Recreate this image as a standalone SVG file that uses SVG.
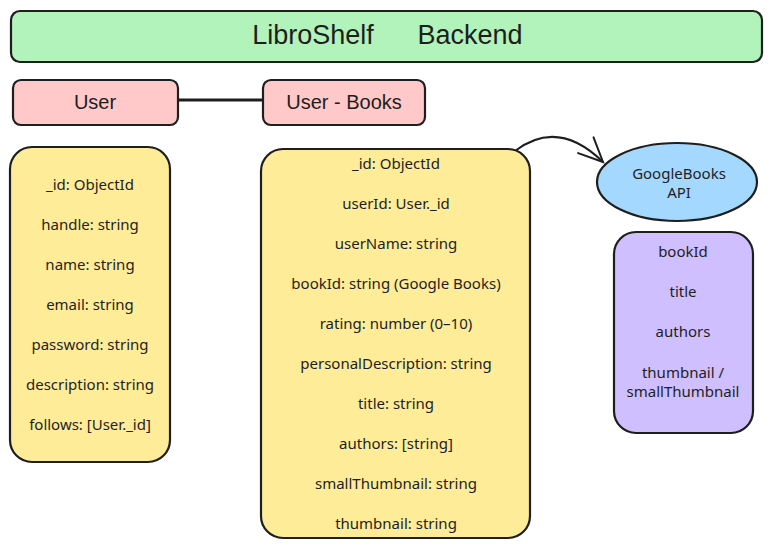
<svg xmlns="http://www.w3.org/2000/svg" width="771" height="549" viewBox="0 0 771 549">
<style>
.box{stroke:#1e1e1e;stroke-width:2.2}
.hand{font-family:"Liberation Sans",sans-serif;font-size:27px;fill:#1e1e1e;text-anchor:middle;dominant-baseline:central}
.hand2{font-family:"Liberation Sans",sans-serif;font-size:20px;fill:#1e1e1e;text-anchor:middle;dominant-baseline:central}
.t{font-family:"Noto Sans","Open Sans",sans-serif;font-size:15px;fill:#1e1e1e;text-anchor:middle;dominant-baseline:central}
</style>
<defs>
<marker id="arr" viewBox="0 0 30 30" refX="26" refY="15" markerWidth="30" markerHeight="30" markerUnits="userSpaceOnUse" orient="auto">
<path d="M2,4 L26,15 L2,26" fill="none" stroke="#1e1e1e" stroke-width="2" stroke-linecap="round"/>
</marker>
</defs>
<rect width="771" height="549" fill="#ffffff"/>
<g id="title">
<rect class="box" x="11" y="11" width="751" height="51" rx="9" fill="#b2f2bb"/>
<text class="hand" x="313" y="35">LibroShelf</text>
<text class="hand" x="470" y="35">Backend</text>
</g>
<g id="connectors">
<line x1="178" y1="100" x2="262" y2="100" stroke="#1e1e1e" stroke-width="3"/>
<path d="M515,151 Q558,118 603,162" fill="none" stroke="#1e1e1e" stroke-width="2" marker-end="url(#arr)"/>
</g>
<g id="user">
<rect class="box" x="13" y="80" width="165" height="45" rx="8" fill="#ffc9c9"/>
<text class="hand2" x="95" y="102">User</text>
</g>
<g id="user-books">
<rect class="box" x="263" y="80" width="162" height="45" rx="8" fill="#ffc9c9"/>
<text class="hand2" x="344" y="102">User - Books</text>
</g>
<g id="user-fields">
<rect class="box" x="10" y="147" width="160" height="315" rx="22" fill="#ffec99"/>
<text class="t" x="90" y="184">_id: ObjectId</text>
<text class="t" x="90" y="224">handle: string</text>
<text class="t" x="90" y="264">name: string</text>
<text class="t" x="90" y="304">email: string</text>
<text class="t" x="90" y="344">password: string</text>
<text class="t" x="90" y="384">description: string</text>
<text class="t" x="90" y="424">follows: [User._id]</text>
</g>
<g id="userbooks-fields">
<rect class="box" x="261" y="149" width="269" height="389" rx="22" fill="#ffec99"/>
<text class="t" x="396" y="163">_id: ObjectId</text>
<text class="t" x="396" y="203">userId: User._id</text>
<text class="t" x="396" y="243">userName: string</text>
<text class="t" x="396" y="283">bookId: string (Google Books)</text>
<text class="t" x="396" y="323">rating: number (0–10)</text>
<text class="t" x="396" y="363">personalDescription: string</text>
<text class="t" x="396" y="403">title: string</text>
<text class="t" x="396" y="443">authors: [string]</text>
<text class="t" x="396" y="483">smallThumbnail: string</text>
<text class="t" x="396" y="523">thumbnail: string</text>
</g>
<g id="googlebooks-api">
<ellipse class="box" cx="677" cy="182" rx="80" ry="39" fill="#a5d8ff"/>
<text class="t" x="679" y="173">GoogleBooks</text>
<text class="t" x="679" y="192">API</text>
</g>
<g id="api-fields">
<rect class="box" x="614" y="232" width="139" height="201" rx="22" fill="#d0bfff"/>
<text class="t" x="683" y="251">bookId</text>
<text class="t" x="683" y="291">title</text>
<text class="t" x="683" y="331">authors</text>
<text class="t" x="683" y="372">thumbnail /</text>
<text class="t" x="683" y="391">smallThumbnail</text>
</g>
</svg>
